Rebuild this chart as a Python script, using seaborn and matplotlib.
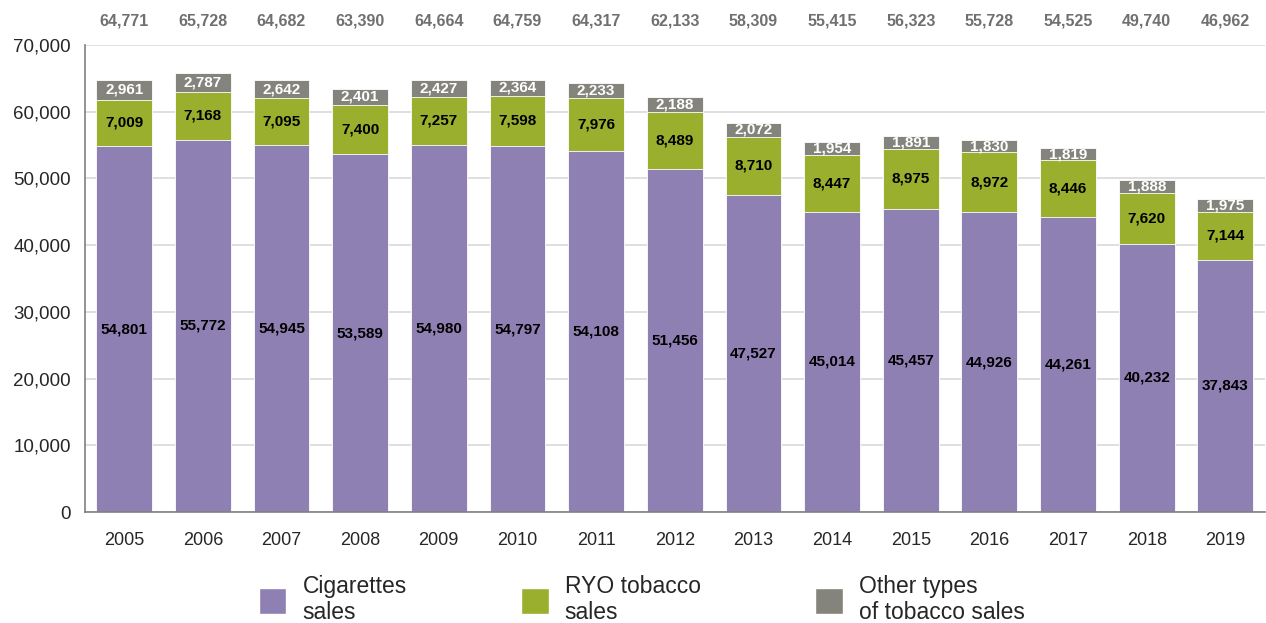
import numpy as np
import pandas as pd
import matplotlib
matplotlib.use('Agg')
import matplotlib.pyplot as plt
import seaborn as sb
from matplotlib.patches import Patch

years = ['2005', '2006', '2007', '2008', '2009', '2010', '2011', '2012',
         '2013', '2014', '2015', '2016', '2017', '2018', '2019']
cigarettes = [54801, 55772, 54945, 53589, 54980, 54797, 54108, 51456,
              47527, 45014, 45457, 44926, 44261, 40232, 37843]
ryo = [7009, 7168, 7095, 7400, 7257, 7598, 7976, 8489,
       8710, 8447, 8975, 8972, 8446, 7620, 7144]
other = [2961, 2787, 2642, 2401, 2427, 2364, 2233, 2188,
         2072, 1954, 1891, 1830, 1819, 1888, 1975]
totals = [64771, 65728, 64682, 63390, 64664, 64759, 64317, 62133,
          58309, 55415, 56323, 55728, 54525, 49740, 46962]

legend_labels = ['Cigarettes\nsales', 'RYO tobacco\nsales', 'Other types\nof tobacco sales']
purple = '#8f80b4'
green = '#9baf2f'
grey = '#84847c'

df = pd.DataFrame({'year': years, 'cig': cigarettes, 'ryo': ryo, 'other': other})
df['cig_ryo'] = df.cig + df.ryo
df['all'] = df.cig_ryo + df.other

sb.set_style('white')
plt.rcParams['font.family'] = ['Liberation Sans', 'DejaVu Sans']

fig = plt.figure(figsize=(12.66, 6.23), dpi=100)
ax = fig.add_axes([0.067, 0.178, 0.932, 0.75])

# layered bars: total first, then cig+ryo, then cig on top
w = 0.71
sb.barplot(data=df, x='year', y='all', color=grey, width=w, saturation=1, ax=ax,
           edgecolor='white', linewidth=0.6)
sb.barplot(data=df, x='year', y='cig_ryo', color=green, width=w, saturation=1, ax=ax,
           edgecolor='white', linewidth=0.6)
sb.barplot(data=df, x='year', y='cig', color=purple, width=w, saturation=1, ax=ax,
           edgecolor='white', linewidth=0.6)

for i in range(len(years)):
    ax.text(i, cigarettes[i] / 2, f'{cigarettes[i]:,}', ha='center', va='center',
            fontsize=11, fontweight='bold', color='black')
    ax.text(i, cigarettes[i] + ryo[i] / 2, f'{ryo[i]:,}', ha='center', va='center',
            fontsize=11, fontweight='bold', color='black')
    ax.text(i, cigarettes[i] + ryo[i] + other[i] / 2, f'{other[i]:,}', ha='center',
            va='center', fontsize=11, fontweight='bold', color='white')
    ax.text(i, 1.05, f'{totals[i]:,}', transform=ax.get_xaxis_transform(),
            ha='center', va='center', fontsize=11.5, fontweight='bold', color='#707070')

ax.set_xlim(-0.5, len(years) - 0.5)
ax.set_ylim(0, 70000)
ax.set_yticks(np.arange(0, 70001, 10000))
ax.set_yticklabels([f'{v:,}' for v in range(0, 70001, 10000)], fontsize=13.5)
ax.tick_params(axis='x', labelsize=13, length=0, pad=14)
ax.set_xticks(np.arange(-0.5, len(years), 1), minor=True)
ax.tick_params(axis='x', which='minor', length=6, color='#808080', direction='out')
ax.tick_params(axis='y', length=6, color='#808080', direction='out', pad=4)
ax.set_xlabel('')
ax.set_ylabel('')
ax.yaxis.grid(True, color='#d9d9d9', linewidth=1.2)
ax.set_axisbelow(True)
for s in ['top', 'right']:
    ax.spines[s].set_visible(False)
for s in ['left', 'bottom']:
    ax.spines[s].set_color('#808080')
    ax.spines[s].set_linewidth(1.2)

handles = [Patch(facecolor=c) for c in [purple, green, grey]]
fig.legend(handles, legend_labels, loc='lower center', ncol=3, frameon=False,
           bbox_to_anchor=(0.507, -0.035), fontsize=16.5, handlelength=1.2, handleheight=1.4,
           columnspacing=5.0, handletextpad=0.7, labelspacing=0)

fig.savefig('out.png', dpi=100)
